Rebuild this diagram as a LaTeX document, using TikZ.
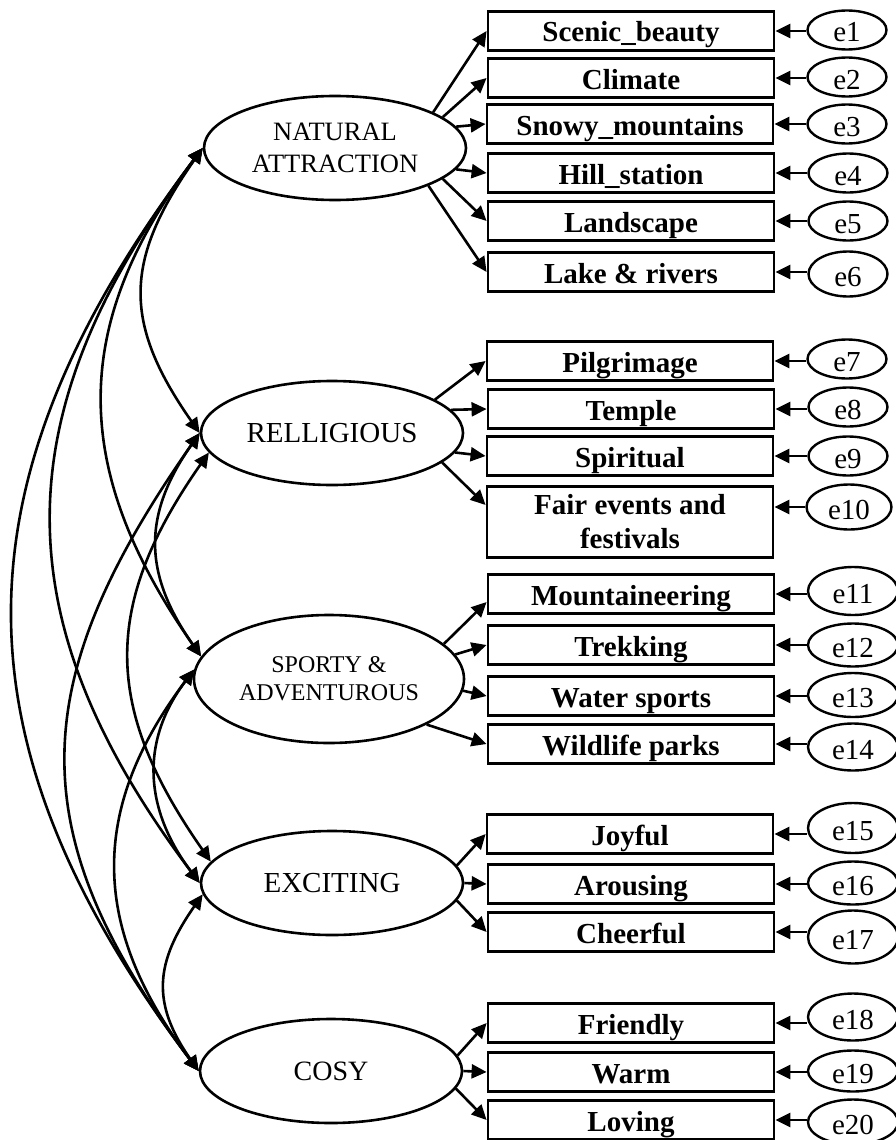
\documentclass[tikz,border=0pt]{standalone}
\usepackage{fontspec}
\setmainfont{Liberation Serif}
\usetikzlibrary{shapes.geometric}
\usetikzlibrary{arrows.meta}

\begin{document}
\begin{tikzpicture}[x=1pt,y=1pt,
        latent node/.style={ellipse,draw,line width=2.6pt,minimum width=262pt,minimum height=104pt,inner sep=0pt,align=center},
        item node/.style={rectangle,draw,line width=2.8pt,minimum width=286pt,minimum height=39pt,inner sep=0pt,font=\fontsize{29}{34}\selectfont\bfseries,text height=26pt,text depth=4pt},
        error node/.style={ellipse,draw,line width=2.4pt,minimum width=79pt,minimum height=39pt,inner sep=0pt,font=\fontsize{29}{30}\selectfont,text height=25pt,text depth=1pt},
        load/.style={line width=2.6pt,-{Triangle[length=15pt,width=14pt]}},
        cov/.style={line width=2.6pt,{Triangle[length=15pt,width=14pt]}-{Triangle[length=15pt,width=14pt]}},
        ]
    
    \useasboundingbox (0,0) rectangle (896,-1140);
    
    % factors
    \node[latent node,font=\fontsize{26.5}{32}\selectfont] (nat) at (335,-148) {NATURAL\\ATTRACTION};
    \node[latent node,font=\fontsize{29}{34}\selectfont] (rel) at (332,-433) {RELLIGIOUS};
    \node[latent node,minimum width=270pt,minimum height=128pt,font=\fontsize{24}{28}\selectfont] (spo) at (329,-679) {SPORTY \&\\ADVENTUROUS};
    \node[latent node,font=\fontsize{29}{34}\selectfont] (exc) at (332,-883) {EXCITING};
    \node[latent node,font=\fontsize{28}{34}\selectfont] (cosy) at (331,-1071) {COSY};
    
    % indicators
    \node[item node] (scenic) at (631,-31) {Scenic\_beauty};
    \node[item node] (climate) at (631,-78) {Climate};
    \node[item node] (snowy) at (630,-124) {Snowy\_mountains};
    \node[item node] (hill) at (631,-173) {Hill\_station};
    \node[item node] (landscape) at (631,-221) {Landscape};
    \node[item node] (lake) at (631,-272) {Lake \& rivers};
    \node[item node] (pilgrim) at (630,-361) {Pilgrimage};
    \node[item node] (temple) at (631,-409) {Temple};
    \node[item node] (spiritual) at (630,-456) {Spiritual};
    \node[item node,minimum height=71pt,text height={},text depth={},align=center] (fair) at (630,-522) {Fair events and\\festivals};
    \node[item node] (mount) at (631,-594) {Mountaineering};
    \node[item node] (trek) at (631,-645) {Trekking};
    \node[item node] (water) at (631,-696) {Water sports};
    \node[item node] (wild) at (631,-744) {Wildlife parks};
    \node[item node] (joyful) at (630,-834) {Joyful};
    \node[item node] (arousing) at (631,-884) {Arousing};
    \node[item node] (cheerful) at (631,-932) {Cheerful};
    \node[item node] (friendly) at (631,-1023) {Friendly};
    \node[item node] (warm) at (631,-1072) {Warm};
    \node[item node] (loving) at (631,-1120) {Loving};
    
    % error terms
    \node[error node] (e1) at (847,-30) {e1};
    \node[error node] (e2) at (847,-77) {e2};
    \node[error node] (e3) at (847,-124) {e3};
    \node[error node] (e4) at (848,-173) {e4};
    \node[error node] (e5) at (848,-221) {e5};
    \node[error node,minimum height=45pt] (e6) at (848,-274) {e6};
    \node[error node] (e7) at (847,-359) {e7};
    \node[error node] (e8) at (848,-407) {e8};
    \node[error node] (e9) at (848,-456) {e9};
    \node[error node,minimum width=85pt,minimum height=45pt] (e10) at (849,-507) {e10};
    \node[error node,minimum width=90pt,minimum height=48pt] (e11) at (853,-591) {e11};
    \node[error node,minimum width=90pt,minimum height=43pt] (e12) at (853,-645) {e12};
    \node[error node,minimum width=90pt,minimum height=44pt] (e13) at (853,-695) {e13};
    \node[error node,minimum width=90pt,minimum height=47pt] (e14) at (853,-747) {e14};
    \node[error node,minimum width=90pt,minimum height=50pt] (e15) at (853,-828) {e15};
    \node[error node,minimum width=90pt,minimum height=43pt] (e16) at (853,-883) {e16};
    \node[error node,minimum width=90pt,minimum height=53pt] (e17) at (853,-937) {e17};
    \node[error node,minimum width=90pt,minimum height=47pt] (e18) at (853,-1017) {e18};
    \node[error node,minimum width=90pt,minimum height=41pt] (e19) at (853,-1071) {e19};
    \node[error node,minimum width=90pt,minimum height=45pt] (e20) at (853,-1122) {e20};
    
    % loadings
    \draw[load] (nat.20) -- (scenic.west);
    \draw[load] (nat.16) -- (climate.west);
    \draw[load] (nat.10) -- (snowy.west);
    \draw[load] (nat.-10) -- (hill.west);
    \draw[load] (nat.-16) -- (landscape.west);
    \draw[load] (nat.-22) -- (lake.west);
    \draw[load] (rel.18) -- (pilgrim.west);
    \draw[load] (rel.11) -- (temple.west);
    \draw[load] (rel.-9) -- (spiritual.west);
    \draw[load] (rel.-15) -- ([yshift=17pt]fair.west);
    \draw[load] (spo.17) -- ([yshift=-8pt]mount.west);
    \draw[load] (spo.11) -- (trek.west);
    \draw[load] (spo.-5) -- (water.west);
    \draw[load] (spo.-25) -- (wild.west);
    \draw[load] (exc.8) -- (joyful.west);
    \draw[load] (exc.0) -- (arousing.west);
    \draw[load] (exc.-8) -- (cheerful.west);
    \draw[load] (cosy.7) -- (friendly.west);
    \draw[load] (cosy.0) -- (warm.west);
    \draw[load] (cosy.-8) -- (loving.west);
    
    % residuals
    \draw[load] (e1.west |- scenic) -- (scenic.east);
    \draw[load] (e2.west |- climate) -- (climate.east);
    \draw[load] (e3.west |- snowy) -- (snowy.east);
    \draw[load] (e4.west |- hill) -- (hill.east);
    \draw[load] (e5.west |- landscape) -- (landscape.east);
    \draw[load] (e6.west |- lake) -- (lake.east);
    \draw[load] (e7.west |- pilgrim) -- (pilgrim.east);
    \draw[load] (e8.west |- temple) -- (temple.east);
    \draw[load] (e9.west |- spiritual) -- (spiritual.east);
    \draw[load] (e10.west) -- (e10.west -| fair.east);
    \draw[load] (e11.west |- mount) -- (mount.east);
    \draw[load] (e12.west |- trek) -- (trek.east);
    \draw[load] (e13.west |- water) -- (water.east);
    \draw[load] (e14.west |- wild) -- (wild.east);
    \draw[load] (e15.west |- joyful) -- (joyful.east);
    \draw[load] (e16.west |- arousing) -- (arousing.east);
    \draw[load] (e17.west |- cheerful) -- (cheerful.east);
    \draw[load] (e18.west |- friendly) -- (friendly.east);
    \draw[load] (e19.west |- warm) -- (warm.east);
    \draw[load] (e20.west |- loving) -- (loving.east);
    
    % covariances
    \draw[cov] (nat.west) to[out=235,in=125,looseness=1.22] (rel.west);
    \draw[cov] (nat.west) to[out=233,in=125,looseness=1.13] (spo.170);
    \draw[cov] (nat.west) to[out=233,in=127,looseness=1.15] (exc.west);
    \draw[cov] (nat.west) to[out=233,in=127,looseness=1.15] (cosy.west);
    \draw[cov] (rel.west) to[out=235,in=125,looseness=1.15] (spo.170);
    \draw[cov] (rel.189) to[out=235,in=125,looseness=1.17] (exc.170);
    \draw[cov] (rel.west) to[out=235,in=127,looseness=1.21] (cosy.west);
    \draw[cov] (spo.176) to[out=233,in=127,looseness=1.09] (exc.west);
    \draw[cov] (spo.176) to[out=233,in=127,looseness=1.13] (cosy.west);
    \draw[cov] (exc.185) to[out=235,in=125,looseness=1.2] (cosy.west);
    \end{tikzpicture}
\end{document}
